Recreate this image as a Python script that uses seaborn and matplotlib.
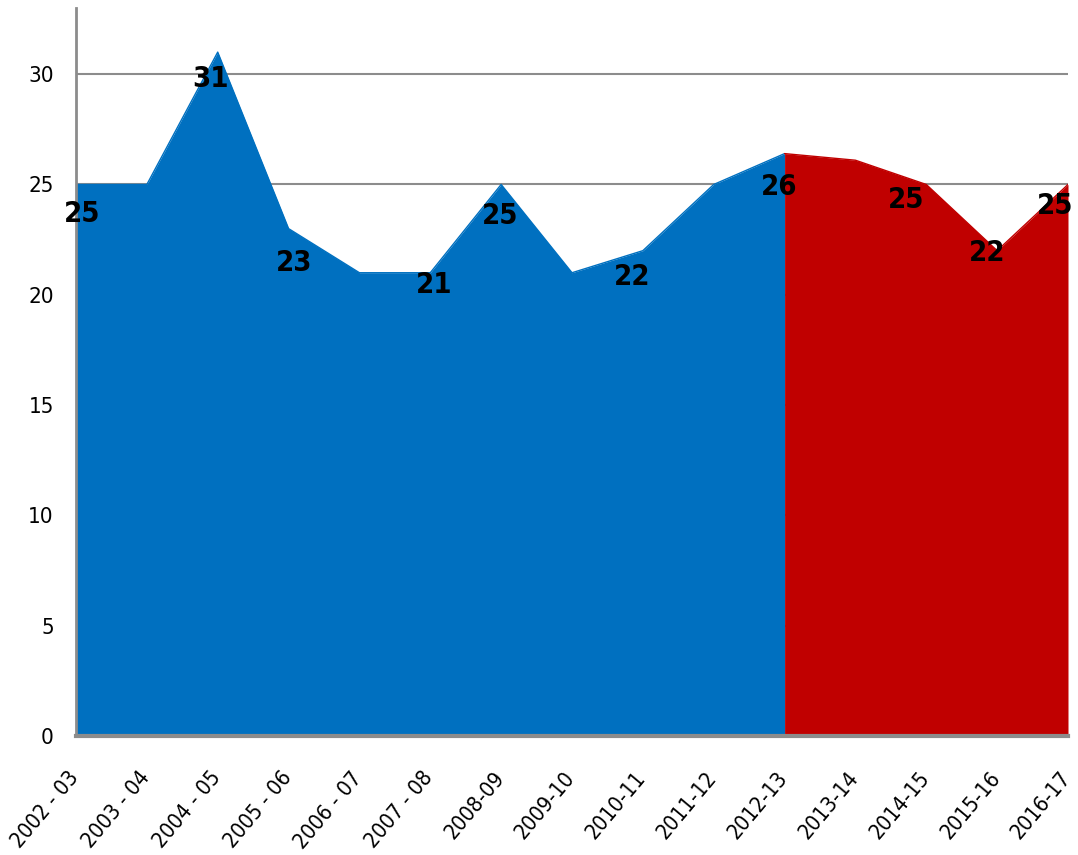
import matplotlib
matplotlib.use("Agg")
import matplotlib.pyplot as plt
import seaborn as sns
import pandas as pd
from matplotlib import font_manager
from matplotlib.font_manager import FontProperties

# Fiscal years and values
years = ["2002 - 03", "2003 - 04", "2004 - 05", "2005 - 06", "2006 - 07",
         "2007 - 08", "2008-09", "2009-10", "2010-11", "2011-12",
         "2012-13", "2013-14", "2014-15", "2015-16", "2016-17"]
values = [25, 25, 31, 23, 21, 21, 25, 21, 22, 25, 26.4, 26.1, 25, 22, 25]
# Last year of the first period (blue); the rest is drawn in red
split_year = "2012-13"
# Years that carry a value label
labelled_years = ["2002 - 03", "2004 - 05", "2005 - 06", "2007 - 08", "2008-09",
                  "2010-11", "2012-13", "2014-15", "2015-16", "2016-17"]
y_ticks = [0, 5, 10, 15, 20, 25, 30]

# label offsets in pixels (dx, dy) relative to each point
label_offsets = {
    "2002 - 03": (6, -30), "2004 - 05": (-7, -27), "2005 - 06": (6, -34),
    "2007 - 08": (4, -12), "2008-09": (-1, -32), "2010-11": (-11, -26),
    "2012-13": (-5, -33), "2014-15": (-20, -16), "2015-16": (-10, -2),
    "2016-17": (-13, -22),
}

sns.set_theme(style="white")


def narrow_font(bold=False):
    """Pick a condensed sans font file if one is installed."""
    cands = []
    for f in font_manager.fontManager.ttflist:
        name = f.fname.lower()
        if ("narrow" in name or "condensed" in name) and "oblique" not in name \
                and "italic" not in name:
            is_bold = "bold" in name
            if is_bold == bold:
                pri = 0 if "liberation" in name else (1 if "dejavusans" in name else 2)
                cands.append((pri, f.fname))
    if cands:
        cands.sort()
        return FontProperties(fname=cands[0][1])
    return FontProperties(family="Roboto", weight="bold" if bold else "normal")


tick_font = narrow_font(False)
label_font = narrow_font(True)
plt.rcParams["font.family"] = ["Roboto", "DejaVu Sans"]

df = pd.DataFrame({"year": years, "value": values})
df["x"] = range(len(df))
split = years.index(split_year)

fig = plt.figure(figsize=(10.78, 8.55), dpi=100)
ax = fig.add_axes([76 / 1078, 1 - 736 / 855, (1068 - 76) / 1078, (736 - 8) / 855])

blue = "#0070C0"
red = "#C00000"

first = df.iloc[: split + 1]
second = df.iloc[split:]
ax.fill_between(first["x"], 0, first["value"], color=blue, lw=0, zorder=2)
ax.fill_between(second["x"], 0, second["value"], color=red, lw=0, zorder=2)
sns.lineplot(data=first, x="x", y="value", color=blue, lw=1, ax=ax, zorder=3)
sns.lineplot(data=second, x="x", y="value", color=red, lw=1, ax=ax, zorder=3)

ax.set_xlim(0, len(years) - 1)
ax.set_ylim(0, 33)
ax.set_yticks(y_ticks)
ax.set_yticklabels([str(t) for t in y_ticks])
for lab in ax.get_yticklabels():
    lab.set_fontproperties(tick_font)
    lab.set_fontsize(16)
    lab.set_color("black")
ax.tick_params(axis="y", length=0, pad=16)

# category labels, slanted, ending just left of each tick position
ax.set_xticks(df["x"])
ax.set_xticklabels([])
ax.tick_params(axis="x", length=0)
for i, yr in enumerate(years):
    ax.annotate(yr, (i, 0), xycoords=("data", "axes fraction"),
                xytext=(-6, -23), textcoords="offset points",
                rotation=50, rotation_mode="anchor", ha="right", va="top",
                fontproperties=tick_font, fontsize=15.5, color="black",
                annotation_clip=False)
ax.set_xlabel("")
ax.set_ylabel("")

ax.yaxis.grid(True, color="#8c8c8c", lw=1.5, zorder=1)
ax.set_axisbelow(True)
for side in ["top", "right"]:
    ax.spines[side].set_visible(False)
ax.spines["left"].set_color("#8c8c8c")
ax.spines["left"].set_linewidth(2)
ax.spines["bottom"].set_color("#8c8c8c")
ax.spines["bottom"].set_linewidth(3)
ax.spines["left"].set_zorder(4)
ax.spines["bottom"].set_zorder(4)

for yr in labelled_years:
    i = years.index(yr)
    v = values[i]
    dx, dy = label_offsets[yr]
    ax.annotate(f"{v:.0f}", (i, v), xytext=(dx * 0.72, dy * 0.72),
                textcoords="offset points", ha="center", va="center",
                fontproperties=label_font, fontsize=21, color="black", zorder=5,
                annotation_clip=False)

fig.savefig("out.png", dpi=100)
